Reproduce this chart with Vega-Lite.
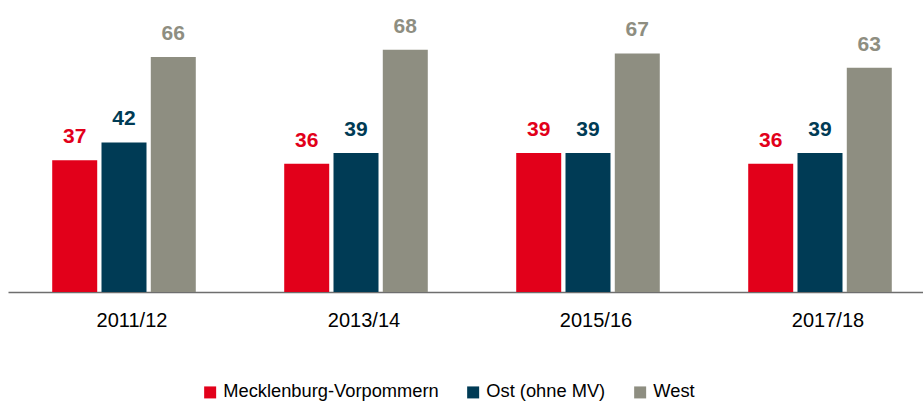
{
  "$schema": "https://vega.github.io/schema/vega-lite/v6.json",
  "width": 928,
  "height": 292,
  "autosize": {"type": "none"},
  "padding": {"left": 8, "top": 0, "right": 0, "bottom": 109},
  "config": {
    "view": {"stroke": null},
    "font": "Liberation Sans",
    "axis": {"grid": false}
  },
  "data": {
    "values": [
      {"year": "2011/12", "series": "Mecklenburg-Vorpommern", "value": 37},
      {"year": "2011/12", "series": "Ost (ohne MV)", "value": 42},
      {"year": "2011/12", "series": "West", "value": 66},
      {"year": "2013/14", "series": "Mecklenburg-Vorpommern", "value": 36},
      {"year": "2013/14", "series": "Ost (ohne MV)", "value": 39},
      {"year": "2013/14", "series": "West", "value": 68},
      {"year": "2015/16", "series": "Mecklenburg-Vorpommern", "value": 39},
      {"year": "2015/16", "series": "Ost (ohne MV)", "value": 39},
      {"year": "2015/16", "series": "West", "value": 67},
      {"year": "2017/18", "series": "Mecklenburg-Vorpommern", "value": 36},
      {"year": "2017/18", "series": "Ost (ohne MV)", "value": 39},
      {"year": "2017/18", "series": "West", "value": 63}
    ]
  },
  "encoding": {
    "x": {
      "field": "year",
      "type": "nominal",
      "scale": {"paddingInner": 0, "paddingOuter": 0},
      "axis": {
        "title": null,
        "labelAngle": 0,
        "ticks": false,
        "domainColor": "#6e6e6e",
        "domainWidth": 1.5,
        "labelFontSize": 20,
        "labelColor": "#000000",
        "labelPadding": 18,
        "labelOffset": 8
      }
    },
    "xOffset": {
      "field": "series",
      "type": "nominal",
      "sort": ["Mecklenburg-Vorpommern", "Ost (ohne MV)", "West"],
      "scale": {"paddingInner": 0.087, "paddingOuter": 0.897}
    },
    "y": {
      "field": "value",
      "type": "quantitative",
      "scale": {"domain": [0, 82], "nice": false},
      "axis": null
    },
    "color": {
      "field": "series",
      "type": "nominal",
      "sort": ["Mecklenburg-Vorpommern", "Ost (ohne MV)", "West"],
      "scale": {
        "domain": ["Mecklenburg-Vorpommern", "Ost (ohne MV)", "West"],
        "range": ["#e2001a", "#003b55", "#8e8e81"]
      }
    }
  },
  "layer": [
    {
      "mark": {"type": "bar"},
      "encoding": {
        "color": {
          "field": "series",
          "type": "nominal",
          "sort": ["Mecklenburg-Vorpommern", "Ost (ohne MV)", "West"],
          "scale": {
            "domain": ["Mecklenburg-Vorpommern", "Ost (ohne MV)", "West"],
            "range": ["#e2001a", "#003b55", "#8e8e81"]
          },
          "legend": {
            "title": null,
            "orient": "none",
            "direction": "horizontal",
            "legendX": 193,
            "legendY": 383,
            "symbolType": "square",
            "symbolSize": 144,
            "symbolStrokeWidth": 0,
            "labelFontSize": 18.3,
            "labelColor": "#000000",
            "labelOffset": 4,
            "columnPadding": 25,
            "labelLimit": 400
          }
        }
      }
    },
    {
      "mark": {"type": "text", "fontSize": 21, "fontWeight": "bold", "baseline": "alphabetic", "dy": -17},
      "encoding": {
        "text": {"field": "value", "type": "quantitative"},
        "color": {
          "field": "series",
          "type": "nominal",
          "legend": null
        }
      }
    }
  ]
}
